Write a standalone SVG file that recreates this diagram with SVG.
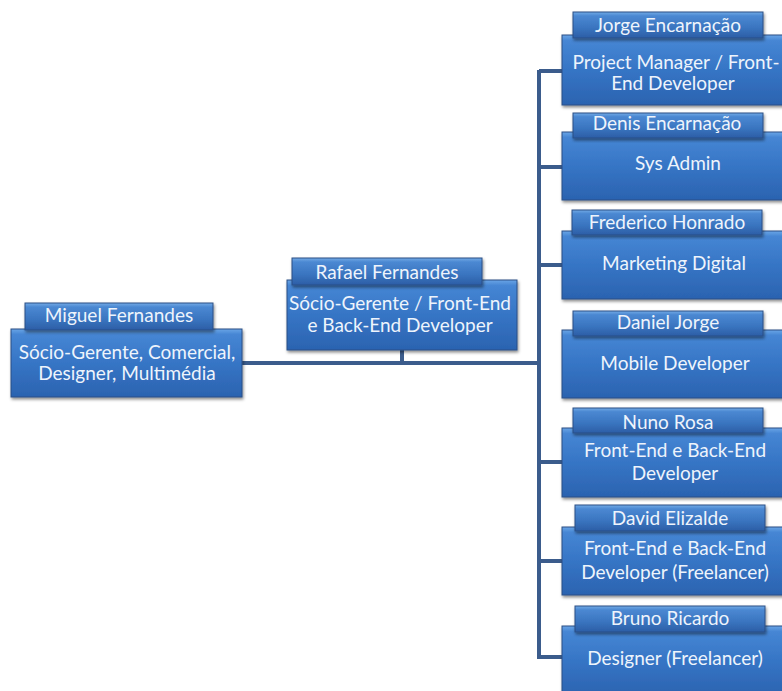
<svg xmlns="http://www.w3.org/2000/svg" width="782" height="691" viewBox="0 0 782 691">
<defs>
<linearGradient id="gBody" x1="0" y1="0" x2="0" y2="1">
<stop offset="0" stop-color="#6aa5e6"/>
<stop offset="0.08" stop-color="#4686d4"/>
<stop offset="0.5" stop-color="#3675c5"/>
<stop offset="1" stop-color="#2b63b0"/>
</linearGradient>
<linearGradient id="gLabel" x1="0" y1="0" x2="0" y2="1">
<stop offset="0" stop-color="#74abe6"/>
<stop offset="0.15" stop-color="#4b88d2"/>
<stop offset="0.6" stop-color="#3a75c0"/>
<stop offset="1" stop-color="#2c5ea6"/>
</linearGradient>
<filter id="sh" x="-10%" y="-10%" width="120%" height="130%">
<feDropShadow dx="1" dy="2" stdDeviation="1.5" flood-color="#000" flood-opacity="0.45"/>
</filter>
</defs>
<style>
.body{fill:url(#gBody);stroke:#2a4f86;stroke-width:1;filter:url(#sh)}
.label{fill:url(#gLabel);stroke:#2a4f86;stroke-width:1;filter:url(#sh)}
.t{font-family:Lato,"Open Sans","Liberation Sans",sans-serif;font-size:19px;fill:#eef4fc;text-anchor:middle}
.ln{stroke:#3b5c8c;stroke-width:4;fill:none}
</style>
<rect width="782" height="691" fill="#ffffff"/>
<g id="connectors">
<path class="ln" d="M242,363 H539"/>
<path class="ln" d="M402,350 V363"/>
<path class="ln" d="M539,70 V659"/>
<path class="ln" d="M539,71 H562"/>
<path class="ln" d="M539,167 H562"/>
<path class="ln" d="M539,265 H562"/>
<path class="ln" d="M539,462 H562"/>
<path class="ln" d="M539,561 H562"/>
<path class="ln" d="M539,657 H562"/>
</g>
<g id="miguel">
<rect class="body" x="11" y="329" width="231" height="68"/>
<rect class="label" x="25" y="303" width="188" height="27"/>
<text class="t" x="119" y="322">Miguel Fernandes</text>
<text class="t" x="127" y="359">Sócio-Gerente, Comercial,</text>
<text class="t" x="127" y="380">Designer, Multimédia</text>
</g>
<g id="rafael">
<rect class="body" x="287" y="280" width="230" height="70"/>
<rect class="label" x="292" y="258" width="190" height="27"/>
<text class="t" x="387" y="279">Rafael Fernandes</text>
<text class="t" x="400" y="310">Sócio-Gerente / Front-End</text>
<text class="t" x="400" y="332">e Back-End Developer</text>
</g>
<g id="jorge">
<rect class="body" x="562" y="35" width="228" height="70"/>
<rect class="label" x="573" y="12" width="190" height="26"/>
<text class="t" x="668" y="32">Jorge Encarnação</text>
<text class="t" x="676" y="69">Project Manager / Front-</text>
<text class="t" x="673" y="90">End Developer</text>
</g>
<g id="denis">
<rect class="body" x="562" y="132" width="228" height="68"/>
<rect class="label" x="573" y="113" width="190" height="25"/>
<text class="t" x="667" y="130">Denis Encarnação</text>
<text class="t" x="678" y="170">Sys Admin</text>
</g>
<g id="frederico">
<rect class="body" x="562" y="231" width="228" height="68"/>
<rect class="label" x="572" y="210" width="190" height="25"/>
<text class="t" x="667" y="229">Frederico Honrado</text>
<text class="t" x="674" y="270">Marketing Digital</text>
</g>
<g id="daniel">
<rect class="body" x="562" y="330" width="228" height="68"/>
<rect class="label" x="573" y="311" width="190" height="25"/>
<text class="t" x="668" y="329">Daniel Jorge</text>
<text class="t" x="675" y="370">Mobile Developer</text>
</g>
<g id="nuno">
<rect class="body" x="562" y="428" width="228" height="69"/>
<rect class="label" x="573" y="408" width="190" height="25"/>
<text class="t" x="668" y="429">Nuno Rosa</text>
<text class="t" x="675" y="457">Front-End e Back-End</text>
<text class="t" x="675" y="480">Developer</text>
</g>
<g id="david">
<rect class="body" x="562" y="527" width="228" height="68"/>
<rect class="label" x="575" y="505" width="190" height="26"/>
<text class="t" x="670" y="525">David Elizalde</text>
<text class="t" x="675" y="555">Front-End e Back-End</text>
<text class="t" x="675" y="579">Developer (Freelancer)</text>
</g>
<g id="bruno">
<rect class="body" x="562" y="626" width="228" height="70"/>
<rect class="label" x="575" y="606" width="190" height="26"/>
<text class="t" x="670" y="625">Bruno Ricardo</text>
<text class="t" x="675" y="665">Designer (Freelancer)</text>
</g>
</svg>
